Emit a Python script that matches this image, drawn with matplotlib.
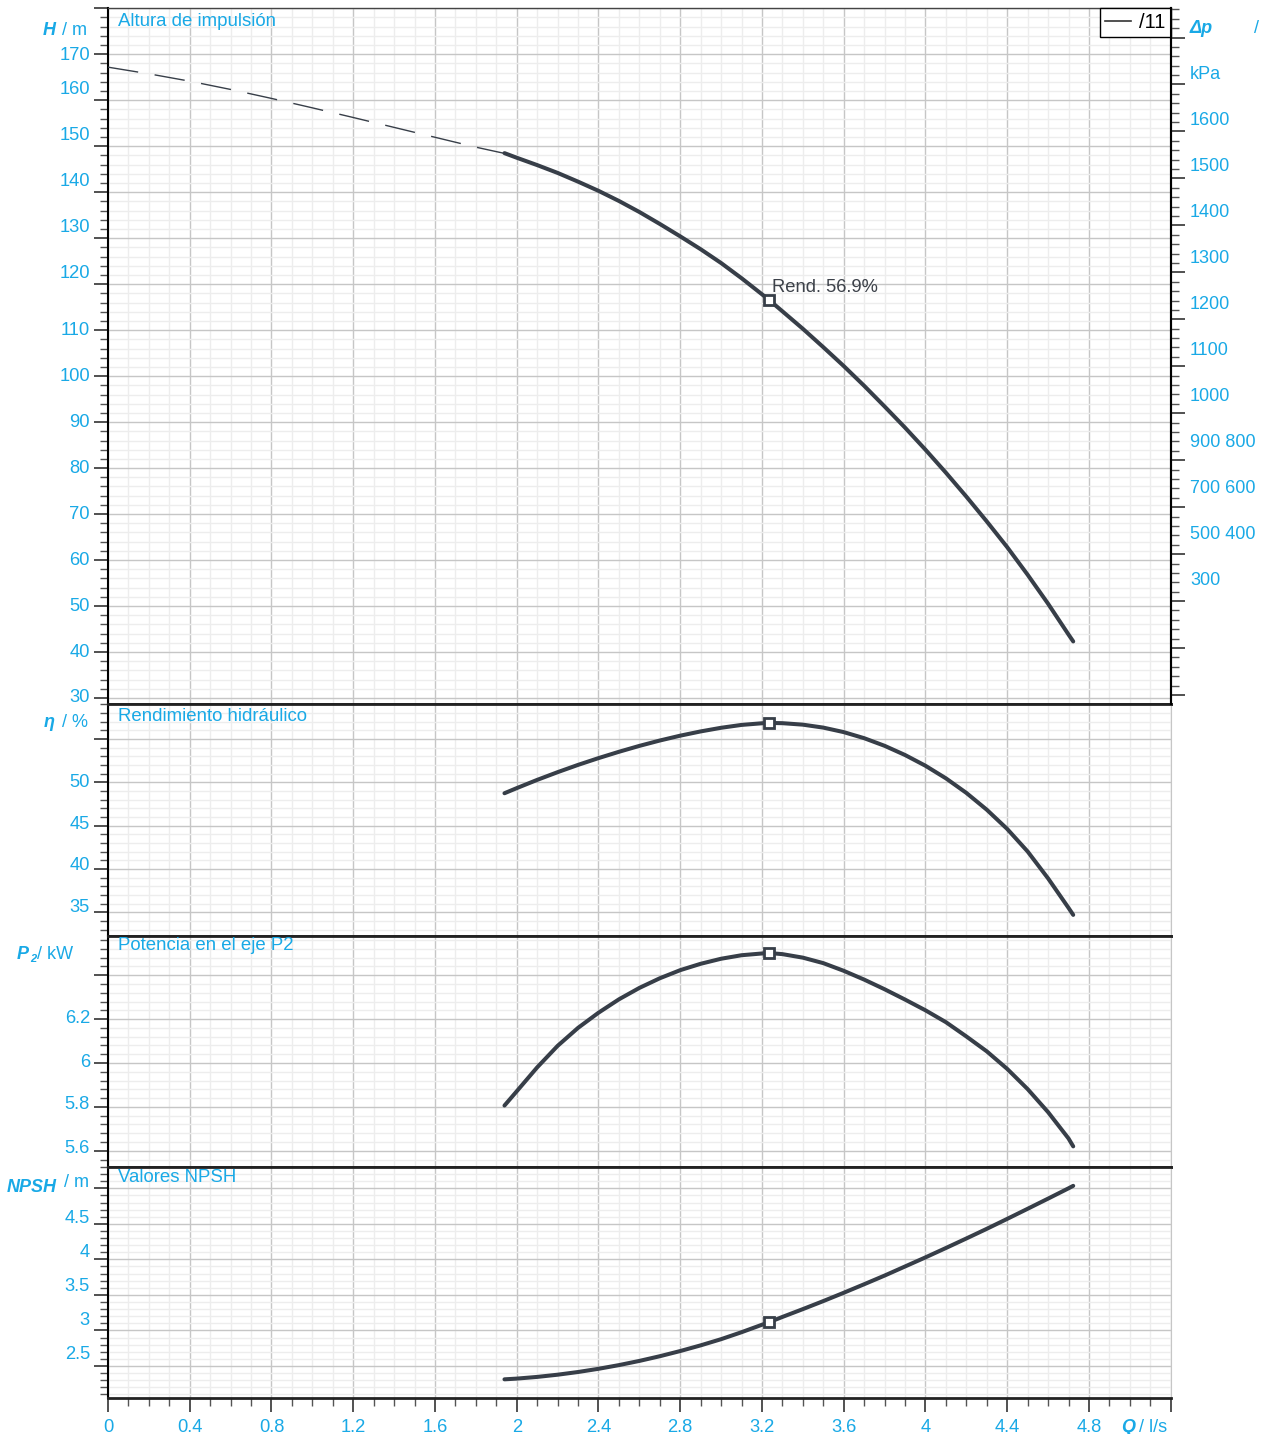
import numpy as np
import matplotlib
matplotlib.use("Agg")
import matplotlib.pyplot as plt
from matplotlib.ticker import MultipleLocator
from matplotlib.lines import Line2D
from matplotlib.transforms import ScaledTranslation

plt.rcParams['font.family'] = ['Liberation Sans', 'DejaVu Sans']

# ---------- data ----------
# flow Q in l/s
q_dash = [0.0, 0.2, 0.4, 0.6, 0.8, 1.0, 1.2, 1.4, 1.6, 1.8, 1.934]
h_dash = [167.2, 165.75, 164.15, 162.35, 160.4, 158.35, 156.25, 154.1, 151.95, 149.8, 148.5]

q_curve = [1.94, 2.0, 2.1, 2.2, 2.3, 2.4, 2.5, 2.6, 2.7, 2.8, 2.9, 3.0, 3.1, 3.2, 3.234,
           3.3, 3.4, 3.5, 3.6, 3.7, 3.8, 3.9, 4.0, 4.1, 4.2, 4.3, 4.4, 4.5, 4.6, 4.7, 4.723]
h_curve = [148.5, 147.5, 145.9, 144.2, 142.3, 140.3, 138.1, 135.7, 133.1, 130.4, 127.6, 124.6, 121.3, 117.8, 116.6,
           114.1, 110.3, 106.3, 102.2, 97.9, 93.4, 88.8, 84.0, 79.0, 73.8, 68.4, 62.8, 56.8, 50.5, 43.8, 42.3]
eta_curve = [48.73, 49.32, 50.27, 51.16, 52.0, 52.78, 53.51, 54.19, 54.81, 55.37, 55.86, 56.28, 56.61, 56.80, 56.84,
             56.81, 56.64, 56.30, 55.78, 55.08, 54.20, 53.14, 51.90, 50.45, 48.77, 46.83, 44.61, 42.01, 38.91, 35.51, 34.70]
p2_curve = [5.806, 5.871, 5.980, 6.078, 6.160, 6.229, 6.290, 6.342, 6.386, 6.423, 6.452, 6.475, 6.491, 6.499, 6.501,
            6.496, 6.480, 6.455, 6.420, 6.380, 6.336, 6.289, 6.240, 6.186, 6.121, 6.053, 5.973, 5.881, 5.776, 5.656, 5.62]
npsh_curve = [2.312, 2.322, 2.346, 2.377, 2.415, 2.46, 2.512, 2.571, 2.637, 2.71, 2.79, 2.877, 2.975, 3.08, 3.115,
              3.19, 3.30, 3.413, 3.53, 3.65, 3.772, 3.90, 4.028, 4.16, 4.294, 4.43, 4.57, 4.712, 4.855, 5.0, 5.035]

q_duty = 3.234
h_duty = 116.6
eta_duty = 56.84
p2_duty = 6.501
npsh_duty = 3.115

x_ticks = [0, 0.4, 0.8, 1.2, 1.6, 2, 2.4, 2.8, 3.2, 3.6, 4, 4.4, 4.8, 5.2]
x_labels = ["0", "0.4", "0.8", "1.2", "1.6", "2", "2.4", "2.8", "3.2", "3.6", "4", "4.4", "4.8", ""]

h_ticks = [30, 40, 50, 60, 70, 80, 90, 100, 110, 120, 130, 140, 150, 160, 170, 180]
h_labels = ["30", "40", "50", "60", "70", "80", "90", "100", "110", "120", "130", "140", "150", "160", "170", ""]
eta_ticks = [35, 40, 45, 50, 55]
eta_labels = ["35", "40", "45", "50", ""]
p2_ticks = [5.6, 5.8, 6.0, 6.2, 6.4]
p2_labels = ["5.6", "5.8", "6", "6.2", ""]
npsh_ticks = [2.5, 3.0, 3.5, 4.0, 4.5, 5.0]
npsh_labels = ["2.5", "3", "3.5", "4", "4.5", ""]

dp_labels = ["1600", "1500", "1400", "1300", "1200", "1100", "1000",
             "900 800", "700 600", "500 400", "300"]

rho_g = 9.79  # kPa per m

# colours
blue = '#19a9e6'
curve_col = '#373e48'
major_grid = '#c6c6c6'
minor_grid = '#ededed'

W, H = 1276, 1434
fig = plt.figure(figsize=(W / 100, H / 100), dpi=100)


def fx(px):
    return px / W


def fy(py):
    return 1 - py / H


left = 108
right = 1170.7
edges = [8.3, 703.5, 935.7, 1167.0, 1398.3]
axes = []
for i in range(4):
    ax = fig.add_axes([fx(left), fy(edges[i + 1]), fx(right - left), (edges[i + 1] - edges[i]) / H])
    axes.append(ax)
ax1, ax2, ax3, ax4 = axes

ax1.set_ylim(28.8, 180)
ax2.set_ylim(32.3, 59.08)
ax3.set_ylim(5.526, 6.58)
ax4.set_ylim(2.045, 5.30)

minor_steps = [2, 1, 0.04, 0.1]
tick_sets = [(h_ticks, h_labels), (eta_ticks, eta_labels), (p2_ticks, p2_labels), (npsh_ticks, npsh_labels)]

for ax, mstep, (tks, lbs) in zip(axes, minor_steps, tick_sets):
    ax.set_xlim(0, 5.2)
    ax.xaxis.set_major_locator(MultipleLocator(0.4))
    ax.xaxis.set_minor_locator(MultipleLocator(0.1))
    ax.set_yticks(tks)
    ax.set_yticklabels(lbs)
    ax.yaxis.set_minor_locator(MultipleLocator(mstep))
    ax.grid(which='major', color=major_grid, lw=1.0, zorder=0)
    ax.grid(which='minor', color=minor_grid, lw=1.0, zorder=0)
    ax.set_axisbelow(True)
    ax.tick_params(axis='y', which='major', direction='out', length=10, width=1.2,
                   color='#333333', labelsize=13.2, labelcolor=blue, pad=3)
    ax.tick_params(axis='y', which='minor', direction='out', length=6, width=1.0, color='#555555')
    ax.tick_params(axis='x', which='both', bottom=False, labelbottom=False)
    ax.spines['left'].set_color('black')
    ax.spines['left'].set_linewidth(1.5)
    ax.spines['right'].set_color(major_grid)
    ax.spines['top'].set_color('#222222')
    ax.spines['top'].set_linewidth(2)
    ax.spines['bottom'].set_color('#222222')
    ax.spines['bottom'].set_linewidth(2)

ax1.spines['top'].set_linewidth(1.0)
ax1.spines['top'].set_color('#444444')
ax1.spines['right'].set_color('black')
ax1.spines['right'].set_linewidth(1.5)

# bottom x axis
ax4.set_xticks(x_ticks)
ax4.set_xticklabels(x_labels)
ax4.tick_params(axis='x', which='major', bottom=True, labelbottom=True, direction='out',
                length=10, width=1.2, color='#333333', labelsize=13.2, labelcolor=blue, pad=5)
ax4.tick_params(axis='x', which='minor', bottom=True, direction='out', length=5.5, width=1.0, color='#555555')

# shift the tick labels a bit, as in the original
shifts = [
    [2, 2, 2, 2, 2, 2, 2, 2, 2, 13, 13, 13, 13, 13, 1, 0],
    [6.3, 5.3, 2.7, 1.3, 0],
    [4.3, 4.4, 2.7, 3, 0],
    [13.7, 12.4, 10.3, 9.3, 7.3, 0],
]
for ax, sh in zip(axes, shifts):
    for tick, dy in zip(ax.yaxis.get_major_ticks(), sh):
        lab = tick.label1
        lab.set_transform(lab.get_transform() + ScaledTranslation(0, dy / 100, fig.dpi_scale_trans))

# right axis in kPa
ax1r = ax1.twinx()
ax1r.set_ylim(28.8 * rho_g, 180 * rho_g)
ax1r.yaxis.set_major_locator(MultipleLocator(100))
ax1r.yaxis.set_minor_locator(MultipleLocator(20))
ax1r.tick_params(axis='y', which='major', direction='out', length=10, width=1.2,
                 color='#333333', labelright=False)
ax1r.tick_params(axis='y', which='minor', direction='out', length=6, width=1.0, color='#555555')
for s in ['left', 'top', 'bottom']:
    ax1r.spines[s].set_visible(False)
ax1r.spines['right'].set_color('black')
ax1r.spines['right'].set_linewidth(1.5)

# curves
ax1.plot(q_dash, h_dash, color=curve_col, lw=1.0, dashes=(22, 12), zorder=3)
ax1.plot(q_curve, h_curve, color=curve_col, lw=2.9, solid_capstyle='round', solid_joinstyle='round', zorder=3)
ax2.plot(q_curve, eta_curve, color=curve_col, lw=2.9, solid_capstyle='round', solid_joinstyle='round', zorder=3)
ax3.plot(q_curve, p2_curve, color=curve_col, lw=2.9, solid_capstyle='round', solid_joinstyle='round', zorder=3)
ax4.plot(q_curve, npsh_curve, color=curve_col, lw=2.9, solid_capstyle='round', solid_joinstyle='round', zorder=3)

for ax, yv in zip(axes, [h_duty, eta_duty, p2_duty, npsh_duty]):
    ax.plot([q_duty], [yv], marker='s', ms=7, mfc='white', mec=curve_col, mew=2, zorder=4)

ax1.annotate("Rend. 56.9%", xy=(q_duty, h_duty), xytext=(2, 9), textcoords='offset points',
             ha='left', va='center', fontsize=13.2, color='#3c4149', zorder=5)

# legend box top right
leg = ax1.legend(handles=[Line2D([], [], color='#333333', lw=1.2)], labels=['/11'],
                 loc='upper right', borderaxespad=0, fancybox=False, edgecolor='black',
                 framealpha=1, handlelength=1.3, handletextpad=0.4, fontsize=14.5, borderpad=0.25)
leg.get_frame().set_linewidth(1.0)
leg.set_zorder(6)

# panel titles
fig.text(fx(118), fy(26.5), "Altura de impulsión", fontsize=13.4, color=blue, va='baseline')
fig.text(fx(118), fy(720.5), "Rendimiento hidráulico", fontsize=13.4, color=blue, va='baseline')
fig.text(fx(118), fy(950.5), "Potencia en el eje P2", fontsize=13.4, color=blue, va='baseline')
fig.text(fx(118), fy(1181.5), "Valores NPSH", fontsize=13.4, color=blue, va='baseline')

# axis labels
bi = dict(fontweight='bold', fontstyle='italic', color=blue, va='baseline')
nr = dict(color=blue, va='baseline')
fig.text(fx(43), fy(35), "H", fontsize=13, **bi)
fig.text(fx(62), fy(35), "/ m", fontsize=13, **nr)
fig.text(fx(44), fy(727), "η", fontsize=13, **bi)
fig.text(fx(62), fy(727), "/ %", fontsize=13, **nr)
fig.text(fx(17), fy(959), "P", fontsize=13, **bi)
fig.text(fx(30), fy(962), "2", fontsize=8, **bi)
fig.text(fx(37), fy(959), "/ kW", fontsize=13, **nr)
fig.text(fx(7), fy(1192), "NPSH", fontsize=13, **bi)
fig.text(fx(64), fy(1187), "/ m", fontsize=13, **nr)
fig.text(fx(1121), fy(1432), "Q", fontsize=13, **bi)
fig.text(fx(1139), fy(1432), "/ l/s", fontsize=13, **nr)

# right hand pressure labels
fig.text(fx(1190), fy(33), "Δp", fontsize=13, **bi)
fig.text(fx(1254), fy(33), "/", fontsize=13, **nr)
fig.text(fx(1190), fy(79), "kPa", fontsize=13, **nr)
for k, lab in enumerate(dp_labels):
    fig.text(fx(1190), fy(125 + 46 * k), lab, fontsize=13, **nr)

fig.savefig("out.png", dpi=100)
